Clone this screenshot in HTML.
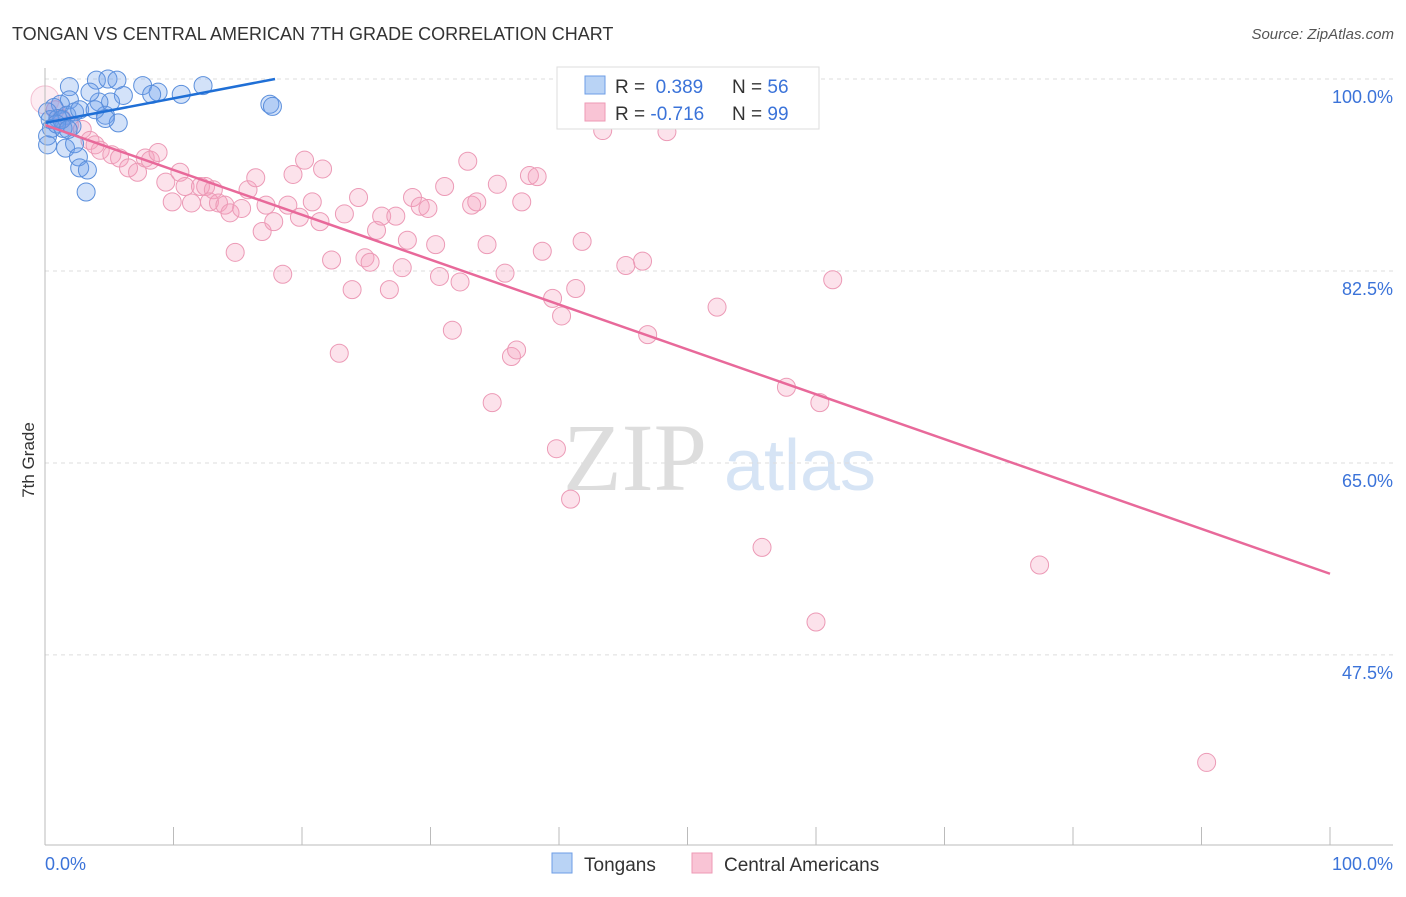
<!DOCTYPE html>
<html><head><meta charset="utf-8"><style>
body{margin:0;background:#fff;font-family:"Liberation Sans",sans-serif;}
svg text{font-family:"Liberation Sans",sans-serif;}
</style></head><body>
<svg id="chart" width="1406" height="892" xmlns="http://www.w3.org/2000/svg">
<text x="12" y="40" font-size="18" fill="#333">TONGAN VS CENTRAL AMERICAN 7TH GRADE CORRELATION CHART</text>
<text x="1394" y="39" font-size="15" fill="#555" text-anchor="end" font-style="italic">Source: ZipAtlas.com</text>
<text x="34" y="460" font-size="17" fill="#333" transform="rotate(-90 34 460)" text-anchor="middle">7th Grade</text>
<text x="635" y="490" font-size="96" fill="#ddd" font-family="Liberation Serif" text-anchor="middle" style="font-family:'Liberation Serif',serif">ZIP</text>
<text x="800" y="490" font-size="72" fill="#d6e4f5" text-anchor="middle">atlas</text>
<g id="grid"></g><g id="pts"></g><g id="lines"></g>
<line x1="45" y1="845" x2="1393" y2="845" stroke="#bbb"/>
<line x1="45" y1="68" x2="45" y2="845" stroke="#bbb"/>
<text x="45" y="870" font-size="18" fill="#3b73d9">0.0%</text>
<text x="1393" y="870" font-size="18" fill="#3b73d9" text-anchor="end">100.0%</text>
<g>
<rect x="557" y="67" width="262" height="62" fill="#fff" stroke="#ddd"/>
<rect x="585" y="76" width="20" height="18" fill="#b9d3f5" stroke="#6d9ee6"/>
<rect x="585" y="103" width="20" height="18" fill="#f9c4d5" stroke="#ee9ab5"/>
<text x="615" y="93" font-size="19" fill="#333">R = <tspan fill="#3b73d9">&#160;0.389</tspan><tspan x="732">N = </tspan><tspan fill="#3b73d9">56</tspan></text>
<text x="615" y="120" font-size="19" fill="#333">R = <tspan fill="#3b73d9">-0.716</tspan><tspan x="732">N = </tspan><tspan fill="#3b73d9">99</tspan></text>
</g>
<g>
<rect x="552" y="853" width="20" height="20" fill="#b9d3f5" stroke="#6d9ee6"/>
<text x="584" y="871" font-size="19" fill="#333">Tongans</text>
<rect x="692" y="853" width="20" height="20" fill="#f9c4d5" stroke="#ee9ab5"/>
<text x="724" y="871" font-size="19" fill="#333">Central Americans</text>
</g>
</svg>
<script>
const yTicks=[100,82.5,65,47.5];
const yTickLabels=["100.0%","82.5%","65.0%","47.5%"];
const blueX=[1.9,4.0,4.9,5.6,7.6,8.8,12.3,10.6,8.3,6.1,5.1,4.2,3.5,1.9,1.2,0.7,0.2,0.4,1.0,1.7,2.3,2.7,4.7,5.7,4.7,3.9,2.1,1.4,0.5,0.2,0.2,1.6,2.3,2.6,2.7,3.3,3.2,17.5,17.7,1.3,0.9,1.8];
const blueY=[99.3,99.9,100,99.9,99.4,98.8,99.4,98.6,98.6,98.5,97.9,97.9,98.8,98.1,97.7,97.4,97.0,96.3,96.4,96.7,97.0,97.2,96.7,96.0,96.4,97.2,95.7,95.5,95.5,94.8,94.0,93.7,94.1,92.9,91.9,91.7,89.7,97.7,97.5,96.3,95.9,95.4];
const pinkX=[0,0.8,1.3,1.9,2.9,3.5,4.3,3.9,5.2,5.8,6.5,7.2,7.8,8.2,8.8,9.4,9.9,10.5,10.9,11.4,12.1,12.5,13.1,12.8,13.5,14.0,14.4,14.8,15.3,15.8,16.4,16.9,17.2,17.8,18.5,18.9,19.3,19.8,20.2,20.8,21.4,21.6,22.3,22.9,23.3,23.9,24.4,24.9,25.3,25.8,26.2,26.8,27.3,27.8,28.2,28.6,29.2,29.8,30.4,30.7,31.1,31.7,32.3,32.9,33.2,33.6,34.4,34.8,35.2,35.8,36.3,36.7,37.1,37.7,38.3,38.7,39.5,39.8,40.2,40.9,41.3,41.8,43.4,45.2,46.5,46.9,48.4,49.4,52.3,55.8,57.7,60.0,60.3,61.3,77.4,90.4];
const pinkY=[98.1,97.2,96.4,95.8,95.4,94.4,93.5,94.0,93.1,92.8,91.9,91.5,92.8,92.6,93.3,90.6,88.8,91.5,90.2,88.7,90.2,90.2,89.9,88.8,88.7,88.5,87.8,84.2,88.2,89.9,91.0,86.1,88.5,87.0,82.2,88.5,91.3,87.4,92.6,88.8,87.0,91.8,83.5,75.0,87.7,80.8,89.2,83.7,83.3,86.2,87.5,80.8,87.5,82.8,85.3,89.2,88.4,88.2,84.9,82.0,90.2,77.1,81.5,92.5,88.5,88.8,84.9,70.5,90.4,82.3,74.7,75.3,88.8,91.2,91.1,84.3,80.0,66.3,78.4,61.7,80.9,85.2,95.3,83.0,83.4,76.7,95.2,99.9,79.2,57.3,71.9,50.5,70.5,81.7,55.7,37.7];
const blueLine=[[0,96.0],[17.9,100]];
const pinkLine=[[0,95.8],[100,54.9]];
const NS="http://www.w3.org/2000/svg";
const X=v=>45+v*12.85, Y=v=>79+(100-v)*10.97;
function mk(t,a,p){const e=document.createElementNS(NS,t);for(const k in a)e.setAttribute(k,a[k]);p.appendChild(e);return e;}
const grid=document.getElementById('grid');
yTicks.forEach((t,i)=>{
 const l=mk('line',{x1:45,x2:1393,y1:Y(t),y2:Y(t),stroke:'#ddd','stroke-dasharray':'4 4'},grid);
 
 
 const tx=mk('text',{x:1393,y:Y(t)+24,'font-size':18,fill:'#3b73d9','text-anchor':'end'},grid);
 tx.textContent=yTickLabels[i];
 
 
});
for(let i=0;i<=10;i++){
 const l=mk('line',{x1:X(i*10),x2:X(i*10),y1:827,y2:845,stroke:'#bbb'},grid);
 
 
}
const pts=document.getElementById('pts');
pinkX.forEach((x,i)=>{
 const c=mk('circle',{cx:X(x),cy:Y(pinkY[i]),r:i==0?14:9,fill:i==0?'rgba(244,160,190,0.2)':'rgba(244,160,190,0.3)',stroke:i==0?'#f4c0d2':'#ec9ab6','stroke-width':1},pts);
 
 
});
blueX.forEach((x,i)=>{
 const c=mk('circle',{cx:X(x),cy:Y(blueY[i]),r:9,fill:'rgba(110,160,235,0.3)',stroke:'#5b8fdc','stroke-width':1},pts);
 
 
});
const lines=document.getElementById('lines');
const bl=mk('line',{x1:X(blueLine[0][0]),y1:Y(blueLine[0][1]),x2:X(blueLine[1][0]),y2:Y(blueLine[1][1]),stroke:'#1f6fd6','stroke-width':2.5},lines);


const pl=mk('line',{x1:X(pinkLine[0][0]),y1:Y(pinkLine[0][1]),x2:X(pinkLine[1][0]),y2:Y(pinkLine[1][1]),stroke:'#e8699a','stroke-width':2.5},lines);


</script>
</body></html>
